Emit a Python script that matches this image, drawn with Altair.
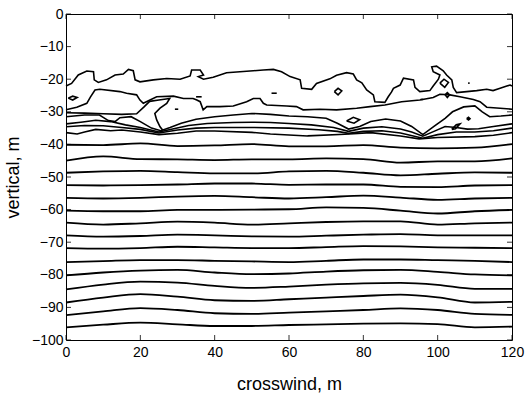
import altair as alt
import pandas as pd

# ---------------- data ----------------
X_TICKS = [0, 20, 40, 60, 80, 100, 120]
Y_TICKS = [0, -10, -20, -30, -40, -50, -60, -70, -80, -90, -100]

# smooth lower contours, sampled at these crosswind positions
X_GRID = [0, 10, 20, 30, 40, 50, 60, 70, 80, 90, 100, 110, 120]
L01 = [-96.1, -95.3, -94.7, -95.2, -95.7, -95.7, -95.4, -95.2, -95.0, -94.9, -95.1, -96.1, -95.9]
L02 = [-92.4, -91.2, -90.2, -90.8, -91.8, -92.0, -91.6, -91.2, -90.8, -90.3, -90.8, -92.0, -92.3]
L03 = [-88.5, -87.0, -85.9, -86.7, -87.8, -88.0, -87.5, -87.0, -86.5, -86.1, -86.9, -88.5, -88.3]
L04 = [-84.5, -83.0, -82.1, -82.4, -83.4, -84.0, -83.6, -83.0, -82.6, -82.5, -83.1, -84.3, -84.3]
L05 = [-80.2, -79.3, -78.7, -78.5, -79.3, -79.8, -79.6, -79.0, -78.6, -78.5, -79.1, -79.9, -80.2]
L06 = [-76.1, -75.8, -75.5, -75.5, -75.7, -75.9, -76.1, -75.7, -75.3, -75.3, -75.5, -75.7, -76.1]
L07 = [-71.8, -72.0, -71.8, -71.4, -71.6, -71.8, -71.8, -71.5, -71.2, -71.3, -71.6, -71.7, -71.8]
L08 = [-67.9, -68.3, -68.1, -67.7, -67.9, -68.2, -68.3, -68.0, -67.7, -67.5, -67.9, -67.9, -67.9]
L09 = [-64.0, -64.6, -64.2, -63.7, -64.0, -64.6, -64.2, -63.8, -63.6, -63.6, -64.6, -64.2, -64.0]
L10 = [-60.3, -60.5, -60.5, -60.1, -60.1, -60.0, -59.9, -59.3, -59.5, -60.3, -61.2, -60.5, -60.1]
L11 = [-56.4, -56.6, -56.4, -56.0, -55.8, -56.2, -56.6, -56.2, -55.7, -56.3, -57.0, -56.6, -56.4]
L12 = [-52.5, -52.6, -52.5, -52.3, -52.0, -52.0, -52.4, -52.3, -52.3, -53.0, -53.1, -52.6, -52.5]
L13 = [-48.7, -48.3, -48.1, -48.5, -48.9, -48.9, -48.3, -48.1, -48.7, -49.5, -49.0, -48.6, -48.7]
L14 = [-45.0, -43.7, -44.5, -44.6, -44.8, -44.6, -44.6, -44.3, -44.5, -45.6, -45.2, -45.2, -44.3]
L15 = [-40.1, -40.2, -39.7, -40.5, -40.3, -39.9, -40.6, -40.6, -40.2, -41.0, -41.2, -41.0, -39.9]
LOWER_LINES = [L01, L02, L03, L04, L05, L06, L07, L08, L09, L10, L11, L12, L13, L14, L15]

# irregular upper contours (crosswind, vertical) in drawing order
A_PTS = [(0, -22.1), (1.5, -21.3), (3.3, -18.7), (5.6, -17.5), (7.4, -17.7), (7.6, -20.2),
         (8.7, -21.0), (10.9, -20.2), (13.2, -18.7), (15.4, -18.4), (16.8, -17.0), (18.1, -17.4),
         (18.6, -20.2), (19.9, -20.8), (23.5, -20.2), (27.1, -19.8), (30.7, -20.0), (33.4, -19.0),
         (33.8, -17.2), (36.1, -17.2), (37.0, -18.7), (35.6, -19.2), (37.0, -20.0), (39.6, -19.4),
         (43.2, -18.0), (46.8, -17.7), (50.4, -17.4), (53.1, -17.2), (55.8, -17.0), (58.0, -17.7),
         (60.3, -19.2), (63.0, -20.2), (63.4, -22.8), (66.1, -23.1), (67.4, -21.3), (71.0, -19.9),
         (72.8, -18.8), (75.5, -18.0), (77.3, -18.4), (78.2, -20.2), (79.6, -21.1), (80.9, -23.3),
         (82.7, -24.8), (83.1, -26.9), (85.8, -27.1), (86.7, -25.4), (87.6, -23.9), (88.1, -22.8),
         (89.9, -21.8), (90.8, -19.7), (93.5, -20.2), (93.9, -22.5), (95.2, -23.8), (97.9, -23.5),
         (98.8, -22.1), (100.2, -20.0), (100.6, -18.7), (98.8, -17.7), (98.4, -16.2), (99.7, -16.0),
         (101.5, -17.4), (102.4, -18.7), (103.8, -20.2), (104.2, -22.5), (105.1, -24.1), (107.8, -23.8),
         (110.5, -23.5), (113.2, -23.1), (114.9, -23.5), (116.8, -22.8), (118.6, -22.1), (119.5, -21.8),
         (120, -22.1)]
B_PTS = [(0, -29.4), (2.9, -28.6), (5.6, -27.4), (6.6, -25.4), (7.8, -23.3), (9.1, -23.1),
         (14.5, -23.8), (16.3, -24.3), (19.0, -24.8), (19.9, -26.4), (20.8, -27.4), (22.6, -26.4),
         (24.4, -25.4), (28.9, -25.2), (31.6, -25.9), (34.2, -25.9), (35.2, -26.4), (36.1, -26.9),
         (36.9, -29.4), (37.9, -28.4), (41.4, -28.4), (45.0, -28.2), (48.6, -26.9), (50.4, -25.9),
         (52.2, -25.9), (53.1, -27.4), (54.0, -27.9), (59.4, -28.2), (62.0, -28.4), (63.8, -29.4),
         (68.3, -29.2), (72.8, -29.4), (78.2, -28.9), (81.8, -28.4), (85.8, -27.9), (90.3, -26.9),
         (95.2, -26.4), (98.8, -25.6), (100.6, -24.6), (103.3, -24.8), (106.0, -25.4), (109.6, -26.2),
         (111.4, -26.9), (113.2, -28.6), (116.8, -28.9), (120, -29.2)]
G_PTS = [(0, -30.3), (5, -30.4), (10, -30.6), (15, -30.8), (19, -30.6), (21, -28.5), (22.5, -26.8),
         (25, -26.4), (27.9, -25.9), (27.1, -27.4), (25.3, -28.9), (23.9, -30.5), (24.4, -32.5),
         (25.3, -34.6), (26, -35.6)]
C_PTS = [(0, -31.5), (5, -31.0), (9, -31.0), (11.4, -32.7), (13.2, -33.0), (14.5, -31.8),
         (17.5, -31.5), (20, -33.0), (23, -35.0), (25.5, -35.8), (28, -34.8), (31, -33.5),
         (35, -32.3), (40, -31.5), (45, -31.0), (50, -30.5), (55, -30.8), (60, -31.3), (65, -31.5),
         (70, -32.0), (73, -33.5), (76, -35.3), (79, -34.5), (82, -33.0), (86, -32.2), (90, -32.8),
         (93, -34.5), (96, -37.0), (99, -34.5), (102, -32.0), (104, -30.0), (107, -28.5),
         (110, -28.2), (112, -30.0), (114, -31.5), (117, -31.3), (120, -31.0)]
D_PTS = [(0, -33.7), (4, -33.2), (8, -32.6), (12, -33.0), (16, -34.0), (20, -34.8), (25, -36.2),
         (29, -35.2), (33, -34.2), (38, -33.6), (45, -33.3), (50, -33.2), (55, -33.3), (60, -33.6),
         (66, -34.0), (72, -34.8), (76, -36.0), (80, -35.0), (85, -34.6), (90, -35.3), (93, -36.2),
         (96, -37.5), (99, -36.0), (102, -34.5), (105, -34.8), (108, -35.3), (111, -35.2),
         (115, -34.5), (120, -33.7)]
E_PTS = [(0, -34.6), (5, -34.2), (10, -34.3), (15, -34.8), (20, -35.4), (25, -36.5), (30, -35.6),
         (35, -35.0), (40, -34.8), (50, -34.8), (60, -35.0), (68, -35.5), (73, -36.0), (76, -36.6),
         (80, -36.0), (85, -35.8), (90, -36.5), (96, -38.1), (100, -37.0), (105, -36.2),
         (110, -36.2), (115, -35.8), (120, -35.0)]
F_PTS = [(0, -36.4), (3, -36.8), (5, -36.2), (8, -35.4), (12, -35.8), (15, -35.6), (20, -36.2),
         (25, -37.0), (30, -36.6), (35, -35.9), (40, -35.9), (50, -36.3), (55, -36.8), (65, -37.4),
         (75, -36.9), (82, -36.4), (90, -37.4), (95, -38.3), (100, -37.9), (110, -37.6),
         (115, -37.2), (120, -36.4)]
UPPER_LINES = [A_PTS, B_PTS, G_PTS, C_PTS, D_PTS, E_PTS, F_PTS]

# small closed contours
LOOP1 = [(0.6, -25.8), (1.8, -25.2), (3.0, -25.6), (1.8, -26.4), (0.6, -25.8)]
LOOP2 = [(72.2, -23.8), (73.2, -22.8), (74.2, -23.6), (73.2, -24.8), (72.2, -23.8)]
LOOP3 = [(100.6, -21.2), (101.7, -20.0), (102.9, -21.0), (101.9, -22.5), (100.6, -21.2)]
LOOP4 = [(102.0, -24.8), (102.6, -24.1), (103.2, -24.8), (102.6, -25.6), (102.0, -24.8)]
LOOP5 = [(75.5, -32.8), (77.3, -31.7), (79.0, -32.4), (77.5, -33.5), (75.5, -32.8)]
LOOP6 = [(103.8, -35.4), (105.0, -34.0), (106.0, -33.7), (104.8, -35.2), (103.8, -35.4)]
LOOP7 = [(107.8, -32.1), (108.3, -31.7), (108.7, -32.1), (108.3, -32.5), (107.8, -32.1)]
DOT1 = [(35.0, -25.4), (36.5, -25.4)]
DOT2 = [(29.3, -29.2), (30.2, -29.2)]
DOT3 = [(55.3, -24.3), (56.7, -24.3)]
DOT4 = [(95.4, -26.2), (96.1, -26.2)]
DOT5 = [(108.2, -21.2), (108.6, -21.2)]
SMALL = [LOOP1, LOOP2, LOOP3, LOOP4, LOOP5, LOOP6, LOOP7, DOT1, DOT2, DOT3, DOT4, DOT5]

# ---------------- tables ----------------
lower_rows = []
for i, ys in enumerate(LOWER_LINES):
    for j, (xv, yv) in enumerate(zip(X_GRID, ys)):
        lower_rows.append({"line": f"L{i}", "ord": j, "x": xv, "y": yv})
lower_df = pd.DataFrame(lower_rows)

def pts_table(groups, prefix):
    rows = []
    for i, pts in enumerate(groups):
        for j, (xv, yv) in enumerate(pts):
            rows.append({"line": f"{prefix}{i}", "ord": j, "x": xv, "y": yv})
    return pd.DataFrame(rows)

upper_df = pts_table(UPPER_LINES, "U")
small_df = pts_table(SMALL, "S")

W, H = 446, 326
FONT = "Liberation Sans"

xscale = alt.Scale(domain=[0, 120], nice=False, zero=False)
yscale = alt.Scale(domain=[-100, 0], nice=False, zero=False)

x_axis = alt.Axis(values=X_TICKS, ticks=False, domain=False, grid=False,
                  labelFont=FONT, labelFontSize=14, labelColor="#000", labelPadding=5,
                  labelFlush=False, labelOverlap=False,
                  title="crosswind, m", titleFont=FONT, titleFontSize=18,
                  titleFontWeight="normal", titleColor="#000", titlePadding=16)
y_axis = alt.Axis(values=Y_TICKS, ticks=False, domain=False, grid=False,
                  labelFont=FONT, labelFontSize=14, labelColor="#000", labelPadding=3,
                  labelFlush=False, labelOverlap=False,
                  title="vertical, m", titleFont=FONT, titleFontSize=18,
                  titleFontWeight="normal", titleColor="#000", titlePadding=9)

def line_layer(df, interp, width):
    return alt.Chart(df).mark_line(
        color="#000", strokeWidth=width, interpolate=interp
    ).encode(
        x=alt.X("x:Q", scale=xscale, axis=x_axis, title="crosswind, m"),
        y=alt.Y("y:Q", scale=yscale, axis=y_axis, title="vertical, m"),
        detail="line:N",
        order="ord:Q",
    )

lower = line_layer(lower_df, "monotone", 1.8)
upper = line_layer(upper_df, "linear", 1.6)
small = line_layer(small_df, "linear", 1.6)

# inward tick marks on all four sides
xt = pd.DataFrame({"x": X_TICKS})
yt = pd.DataFrame({"y": Y_TICKS})
tick_style = dict(color="#000", strokeWidth=0.8)
XENC = alt.X("x:Q", scale=xscale, axis=x_axis, title="crosswind, m")
YENC = alt.Y("y:Q", scale=yscale, axis=y_axis, title="vertical, m")
ticks_bottom = alt.Chart(xt).mark_rule(**tick_style).encode(
    x=XENC, y=alt.value(H), y2=alt.value(H - 5))
ticks_top = alt.Chart(xt).mark_rule(**tick_style).encode(
    x=XENC, y=alt.value(0), y2=alt.value(5))
ticks_left = alt.Chart(yt).mark_rule(**tick_style).encode(
    y=YENC, x=alt.value(0), x2=alt.value(5))
ticks_right = alt.Chart(yt).mark_rule(**tick_style).encode(
    y=YENC, x=alt.value(W), x2=alt.value(W - 5))

chart = alt.layer(
    lower, upper, small, ticks_bottom, ticks_top, ticks_left, ticks_right
).properties(
    width=W, height=H,
    autosize=alt.AutoSizeParams(type="none"),
    padding={"left": 66, "top": 14, "right": 17, "bottom": 62},
    background="white",
).configure_view(
    stroke="#000", strokeWidth=1
)

chart.save("out.html", embed_options={"renderer": "svg", "actions": False})
